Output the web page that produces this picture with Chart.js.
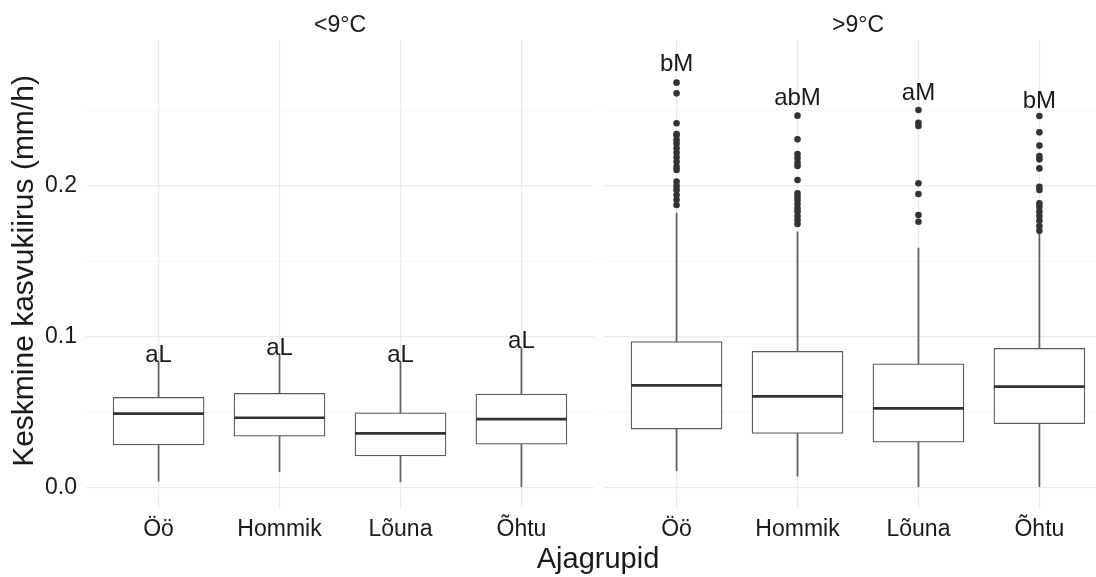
<!DOCTYPE html>
<html>
<head>
<meta charset="utf-8">
<script src="https://cdn.jsdelivr.net/npm/chart.js@4/dist/chart.umd.min.js"></script>
<style>
  html, body { margin: 0; padding: 0; background: #ffffff; }
  #wrap { position: relative; width: 1096px; height: 577px; overflow: hidden; }
  canvas { position: absolute; left: 0; top: 0; }
</style>
</head>
<body>
<div id="wrap">
  <canvas id="cold" width="1096" height="577"></canvas>
  <canvas id="warm" width="1096" height="577"></canvas>
</div>
<script>
// ---------------- data ----------------
const categories = ['Öö', 'Hommik', 'Lõuna', 'Õhtu'];
const facetTitles = ['<9°C', '>9°C'];
const xTitle = 'Ajagrupid';
const yTitle = 'Keskmine kasvukiirus (mm/h)';

const yTicks = [0, 0.1, 0.2];
const yTickLabels = ['0.0', '0.1', '0.2'];
const yMinorTicks = [0.05, 0.15, 0.25];

// <9°C
const coldLow    = [0.0040, 0.0104, 0.0037, 0.0000];
const coldQ1     = [0.0281, 0.0339, 0.0208, 0.0287];
const coldMedian = [0.0489, 0.0462, 0.0358, 0.0453];
const coldQ3     = [0.0597, 0.0624, 0.0495, 0.0619];
const coldHigh   = [0.0835, 0.0885, 0.0835, 0.0925];
const coldOutliers = [[], [], [], []];
const coldLetters  = ['aL', 'aL', 'aL', 'aL'];
const coldLetterY  = [0.0875, 0.0925, 0.0878, 0.0969];

// >9°C
const warmLow    = [0.0110, 0.0075, 0.0004, 0.0000];
const warmQ1     = [0.0387, 0.0358, 0.0300, 0.0422];
const warmMedian = [0.0677, 0.0604, 0.0524, 0.0668];
const warmQ3     = [0.0967, 0.0903, 0.0820, 0.0923];
const warmHigh   = [0.1820, 0.1695, 0.1588, 0.1685];
const warmOutliersOo     = [0.2686, 0.2615, 0.2416, 0.2345, 0.2339, 0.2306, 0.2280, 0.2250, 0.2221, 0.2191, 0.2161, 0.2128, 0.2106, 0.2029, 0.2000, 0.1974, 0.1940, 0.1908, 0.1874];
const warmOutliersHommik = [0.2467, 0.2310, 0.2212, 0.2184, 0.2155, 0.2133, 0.2040, 0.1952, 0.1929, 0.1907, 0.1880, 0.1852, 0.1830, 0.1801, 0.1774, 0.1748];
const warmOutliersLouna  = [0.2504, 0.2420, 0.2398, 0.2018, 0.1947, 0.1807, 0.1763];
const warmOutliersOhtu   = [0.2465, 0.2356, 0.2268, 0.2199, 0.2177, 0.2117, 0.1995, 0.1973, 0.1885, 0.1863, 0.1830, 0.1801, 0.1770, 0.1734, 0.1703];
const warmOutliers = [warmOutliersOo, warmOutliersHommik, warmOutliersLouna, warmOutliersOhtu];
const warmLetters  = ['bM', 'abM', 'aM', 'bM'];
const warmLetterY  = [0.2810, 0.2580, 0.2615, 0.2564];

// ---------------- styles ----------------
const FONT = "'Liberation Sans', Arial, sans-serif";
const TEXT = '#1a1a1a';
const GRID = '#ebebeb';
const GRID_MINOR = '#f2f2f2';
const Y_MIN = -0.0137, Y_MAX = 0.2969;

function buildDatasets(low, q1, med, q3, high, outliers) {
  const idx = categories.map((c, i) => i);
  const pts = [];
  outliers.forEach((arr, i) => arr.forEach(v => pts.push({ x: i, y: v })));
  return [
    { type: 'scatter', order: 0, data: idx.map(i => ({ x: i, y: med[i] })),
      pointStyle: 'line', pointRadius: 45.5, borderColor: '#333333', borderWidth: 2.7 },
    { type: 'scatter', order: 1, data: pts,
      pointRadius: 3.3, backgroundColor: '#333333', borderWidth: 0 },
    { type: 'bar', order: 2, grouped: false, data: idx.map(i => ({ x: i, y: [q1[i], q3[i]] })),
      barThickness: 91, backgroundColor: '#ffffff', borderColor: '#5a5a5a', borderWidth: 1.3, borderSkipped: false },
    { type: 'bar', order: 3, grouped: false, data: idx.map(i => ({ x: i, y: [q3[i], high[i]] })),
      barThickness: 1.1, backgroundColor: '#606060', borderWidth: 0 },
    { type: 'bar', order: 3, grouped: false, data: idx.map(i => ({ x: i, y: [low[i], q1[i]] })),
      barThickness: 1.1, backgroundColor: '#606060', borderWidth: 0 }
  ];
}

function textPlugin(facet, letters, letterY, isLeft) {
  return {
    id: 'facetText' + facet,
    afterDraw(chart) {
      const ctx = chart.ctx;
      const xs = chart.scales.x, ys = chart.scales.y;
      const area = chart.chartArea;
      ctx.save();
      ctx.fillStyle = TEXT;
      ctx.font = '24px ' + FONT;
      ctx.textAlign = 'center';
      ctx.textBaseline = 'middle';
      letters.forEach((t, i) => ctx.fillText(t, xs.getPixelForValue(i), ys.getPixelForValue(letterY[i])));
      const panelCenter = (xs.getPixelForValue(-0.6) + xs.getPixelForValue(3.6)) / 2;
      ctx.font = '23px ' + FONT;
      ctx.textBaseline = 'alphabetic';
      ctx.fillText(facetTitles[facet], panelCenter, 31.5);
      if (isLeft) {
        ctx.font = '29px ' + FONT;
        ctx.fillText(xTitle, 598, 568);
        ctx.translate(33, (area.top + area.bottom) / 2 - 3);
        ctx.rotate(-Math.PI / 2);
        ctx.font = '30px ' + FONT;
        ctx.fillText(yTitle, 0, 0);
      }
      ctx.restore();
    }
  };
}

function makeChart(id, facet, sets, letters, letterY, isLeft) {
  const xMax = isLeft ? 3.6 : 3.468;
  return new Chart(document.getElementById(id), {
    type: 'bar',
    data: { datasets: sets },
    options: {
      responsive: false,
      devicePixelRatio: 1,
      animation: false,
      events: [],
      layout: { autoPadding: false,
                padding: isLeft ? { left: 0, right: 502, top: 40, bottom: 0 } : { left: 604, right: 0, top: 40, bottom: 0 } },
      plugins: { legend: { display: false }, tooltip: { enabled: false }, title: { display: false } },
      scales: {
        x: {
          type: 'linear', min: -0.6, max: xMax, offset: false,
          afterBuildTicks: s => { s.ticks = categories.map((c, i) => ({ value: i })); },
          afterFit: s => { s.height = 69; s.paddingLeft = 0; s.paddingRight = 0; },
          grid: { color: GRID, lineWidth: 1.2, drawTicks: false, offset: false },
          border: { display: false },
          ticks: { autoSkip: false, maxRotation: 0, padding: 8, color: TEXT,
                   font: { family: FONT, size: 23 },
                   callback: v => categories[v] }
        },
        y: {
          type: 'linear', min: Y_MIN, max: Y_MAX,
          afterBuildTicks: s => { s.ticks = yTicks.concat(yMinorTicks).sort((a, b) => a - b).map(v => ({ value: v })); },
          afterFit: s => { s.width = isLeft ? 86 : 0; s.paddingTop = 0; s.paddingBottom = 0; },
          grid: { drawTicks: false,
                  color: c => (yMinorTicks.includes(c.tick.value) ? GRID_MINOR : GRID),
                  lineWidth: c => (yMinorTicks.includes(c.tick.value) ? 0.8 : 1.2) },
          border: { display: false },
          ticks: { display: isLeft, padding: 9, color: TEXT, font: { family: FONT, size: 23 },
                   callback: v => { const k = yTicks.indexOf(v); return k >= 0 ? yTickLabels[k] : ''; } }
        }
      }
    },
    plugins: [textPlugin(facet, letters, letterY, isLeft)]
  });
}

makeChart('cold', 0, buildDatasets(coldLow, coldQ1, coldMedian, coldQ3, coldHigh, coldOutliers), coldLetters, coldLetterY, true);
makeChart('warm', 1, buildDatasets(warmLow, warmQ1, warmMedian, warmQ3, warmHigh, warmOutliers), warmLetters, warmLetterY, false);
</script>
</body>
</html>
